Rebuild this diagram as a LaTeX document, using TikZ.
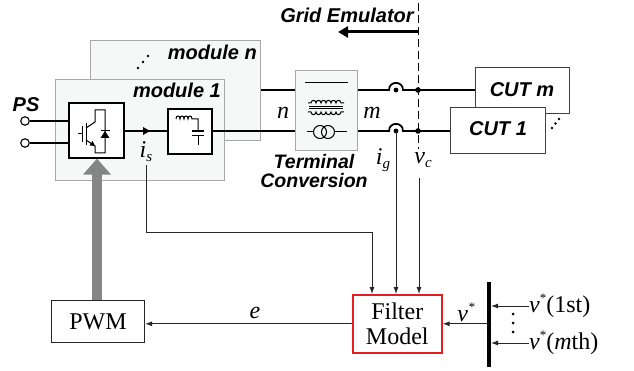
\documentclass[tikz,border=0pt]{standalone}
\usepackage{fontspec}
\setmainfont{Liberation Serif}
\setsansfont{Liberation Sans}
\usetikzlibrary{arrows.meta}
\definecolor{modgray}{HTML}{A8A8A8}
\definecolor{modfill}{HTML}{F6F8F8}
\definecolor{bigarrow}{HTML}{858585}
\definecolor{fmred}{HTML}{E02020}
\begin{document}
\begin{tikzpicture}[x=1pt,y=-1pt,
  modbox/.style={draw=modgray, fill=modfill, line width=1pt, inner sep=0pt, anchor=north west},
  blk/.style={draw=black, line width=1.6pt, fill=white, inner sep=0pt, anchor=north west},
  cutbox/.style={draw=black!75, line width=1.1pt, fill=white, inner sep=0pt, anchor=north west},
  pw/.style={line width=1.8pt},
  sym/.style={line width=1pt},
  sig/.style={line width=0.9pt, draw=black!85, -{Latex[length=7pt,width=5pt]}},
  blab/.style={font=\sffamily\bfseries\itshape\fontsize{20}{21}\selectfont, inner sep=0pt},
  mlab/.style={font=\itshape\fontsize{24}{24}\selectfont, inner sep=0pt},
  rmlab/.style={font=\fontsize{24}{25}\selectfont, inner sep=0pt, align=center}]
\useasboundingbox (0,0) rectangle (634,371);

% module boxes
\node[modbox, minimum width=170, minimum height=100] (modn) at (90,40) {};
\node[modbox, minimum width=169, minimum height=101] (mod1) at (55,79) {};
\node[blab, anchor=east] (modnlab) at (257,52) {module n};
\node[blab, anchor=east] (mod1lab) at (221,90) {module 1};
\fill (138,68) circle[radius=1.3] (143,62) circle[radius=1.3] (148,56) circle[radius=1.3];

% PS terminals
\node[blab] (ps) at (26,105) {PS};
\node[circle, draw, line width=1.1pt, fill=white, minimum size=8.5, inner sep=0pt] (t1) at (25,121) {};
\node[circle, draw, line width=1.1pt, fill=white, minimum size=8.5, inner sep=0pt] (t2) at (25,143) {};

% IGBT box
\node[blk, minimum width=55, minimum height=55] (igbt) at (68,102) {};
\draw[pw] (t1.east) -- (t1.east -| igbt.west);
\draw[pw] (t2.east) -- (t2.east -| igbt.west);
% IGBT symbol
\draw[sym] (78,134) -- (82,134) (82,126) -- (82,142);
\draw[sym] (86,123) -- (86,145);
\draw[sym] (86,128) -- (95,122) -- (95,110) -- (105,110) -- (105,153) -- (95,153) -- (95,146) -- (86,140);
\fill (95,146) -- (89.5,145.5) -- (92.5,141) -- cycle;
\fill (100.5,138) -- (109.5,138) -- (105,131) -- cycle;
\draw[sym] (100.5,131) -- (109.5,131);

% small filter box
\node[blk, minimum width=44, minimum height=45] (lc) at (167,108) {};
\draw[sym] (176,119) \foreach \i in {0,...,3} { .. controls (176+4*\i,115) and (180+4*\i,115) .. (180+4*\i,119) } -- (198,119) -- (198,131);
\draw[line width=1.6pt] (192,131) -- (204,131) (192,135.5) -- (204,135.5);
\draw[sym] (198,135.5) -- (198,145);

% power line with current marker
\coordinate (ylow) at (0,131);
\draw[pw] (igbt.east |- ylow) -- (lc.west |- ylow);
\fill (150,131) -- (143,127) -- (143,135) -- cycle;
\node[mlab] (islab) at (146,152) {i\raisebox{-0.35ex}{\fontsize{15}{15}\selectfont s}};

% terminal conversion
\node[modbox, minimum width=62, minimum height=80] (tc) at (295,70) {};
\draw[pw] (lc.east |- ylow) -- (tc.west |- ylow);
\draw[pw] (modn.east |- 0,90) -- (tc.west |- 0,90);
\draw[sym] (305,83) -- (348,83);
\draw[sym] (308,103) -- (311,103) \foreach \i in {0,...,5} { .. controls (311+5*\i,99.5) and (316+5*\i,99.5) .. (316+5*\i,103) } -- (344,103);
\draw[line width=0.8pt] (309,106.5) -- (343,106.5) (309,108.5) -- (343,108.5);
\draw[sym] (308,112) -- (311,112) \foreach \i in {0,...,5} { .. controls (311+5*\i,115.5) and (316+5*\i,115.5) .. (316+5*\i,112) } -- (344,112);
\draw[sym] (307,132) -- (313.5,132) (334.5,132) -- (347,132);
\draw[sym] (320,132) circle[radius=6.5] (328,132) circle[radius=6.5];
\node[mlab] (nlab) at (283,113) {n};
\node[mlab] (mlab1) at (372,113) {m};
\node[blab, align=center, font=\sffamily\bfseries\itshape\fontsize{19.5}{19.5}\selectfont] (tclab) at (314,171) {Terminal\\Conversion};

% CUT boxes
\node[cutbox, minimum width=94, minimum height=46] (cutm) at (475,67) {};
\node[blab] (cutmlab) at (522,90) {CUT m};
\node[cutbox, minimum width=95, minimum height=46] (cut1) at (450,107) {};
\node[blab] (cut1lab) at (498,129) {CUT 1};
\fill (552,128) circle[radius=1.3] (555.5,123.5) circle[radius=1.3] (559,119) circle[radius=1.3];

% lines to CUTs with hops
\coordinate (hopU) at (396,90);
\coordinate (hopL) at (396,131);
\coordinate (vcU) at (418,90);
\coordinate (vcL) at (418,131);
\draw[pw] (tc.east |- hopU) -- (389,90) .. controls (389,80.5) and (403,80.5) .. (403,90) -- (cutm.west |- hopU);
\draw[pw] (tc.east |- hopL) -- (389,131) .. controls (389,121.5) and (403,121.5) .. (403,131) -- (cut1.west |- hopL);
\fill (hopU) circle[radius=2.4] (hopL) circle[radius=2.4] (vcU) circle[radius=2.8] (vcL) circle[radius=2.8];

% grid emulator boundary
\coordinate (gtop) at (418,3);
\coordinate (gbot) at (418,149);
\draw[line width=1pt, dash pattern=on 8pt off 4pt] (gtop) -- (gbot);
\node[blab] (gelab) at (347,15) {Grid Emulator};
\coordinate (gearr) at (418,32);
\draw[line width=3pt, -{Triangle[length=10pt,width=11pt]}] (gearr) -- (338,32);

% labels ig vc
\node[mlab] (iglab) at (383,160) {i\raisebox{-0.35ex}{\fontsize{15}{15}\selectfont g}};
\node[mlab] (vclab) at (423,160) {v\raisebox{-0.35ex}{\fontsize{15}{15}\selectfont c}};

% control part
\node[draw=black!85, line width=1.1pt, fill=white, inner sep=0pt, anchor=north west, minimum width=93, minimum height=42, rmlab] (pwm) at (51,300) {PWM};
\node[draw=fmred, line width=1.6pt, fill=white, inner sep=0pt, anchor=north west, minimum width=89, minimum height=58, rmlab] (fm) at (352,294) {Filter\\Model};

\draw[line width=10pt, draw=bigarrow, -{Triangle[length=16pt,width=27pt]}] (pwm.north -| 97,0) -- (igbt.south -| 97,0);

\coordinate (isstart) at (146,165);
\coordinate (isturn) at (372,232);
\draw[sig] (isstart) |- (isturn) -- (isturn |- fm.north);
\draw[sig] (hopL) -- (hopL |- fm.north);
\coordinate (vcstart) at (419,178);
\draw[sig] (vcstart) -- (vcstart |- fm.north);
\draw[sig] (fm.west) -- (fm.west -| pwm.east);
\node[mlab] (elab) at (255,313) {e};

% reference bus
\coordinate (bartop) at (489,282);
\coordinate (barbot) at (489,367);
\draw[line width=4pt] (bartop) -- (barbot);
\draw[sig] (fm.east -| bartop) -- (fm.east);
\node[mlab] (vslab) at (466,312) {v\raisebox{0.9ex}{\fontsize{13}{13}\selectfont *}};
\node[rmlab, anchor=west] (v1) at (529,306) {\textit{v}\raisebox{0.9ex}{\fontsize{13}{13}\selectfont *}(1st)};
\node[rmlab, anchor=west] (vm) at (529,343) {\textit{v}\raisebox{0.9ex}{\fontsize{13}{13}\selectfont *}(\textit{m}th)};
\draw[sig, shorten >=2pt] (v1.west) -- (v1.west -| bartop);
\draw[sig, shorten >=2pt] (vm.west) -- (vm.west -| bartop);
\fill (513,314) circle[radius=1.5] (513,323) circle[radius=1.5] (513,332) circle[radius=1.5];
\end{tikzpicture}
\end{document}
